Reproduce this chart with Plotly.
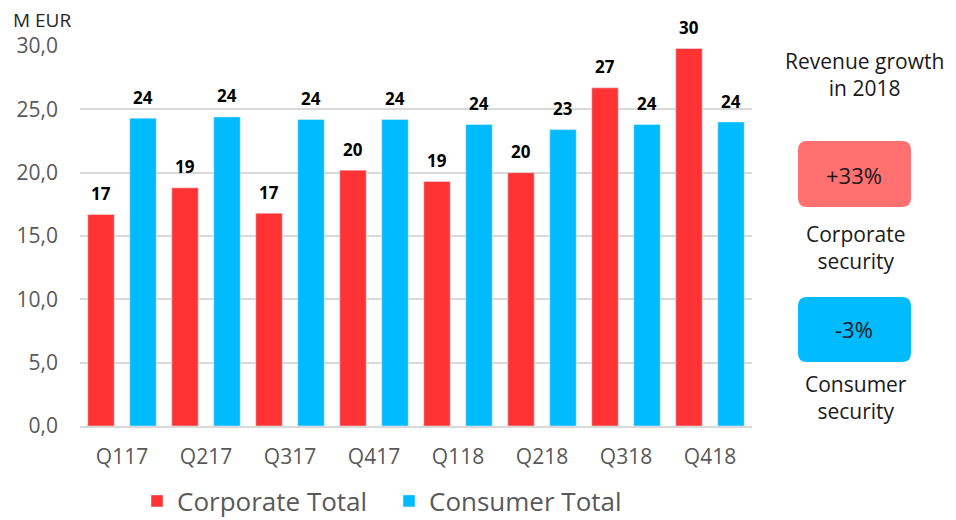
import plotly.graph_objects as go

categories = ["Q117", "Q217", "Q317", "Q417", "Q118", "Q218", "Q318", "Q418"]
corporate = [16.7, 18.8, 16.8, 20.2, 19.3, 20.0, 26.7, 29.8]
consumer = [24.3, 24.4, 24.2, 24.2, 23.8, 23.4, 23.8, 24.0]
series_names = ["Corporate Total", "Consumer Total"]
y_ticks = [0, 5, 10, 15, 20, 25, 30]

RED = "#FF3333"
BLUE = "#00BBFF"
FONT = "Open Sans"

OFF = 8  # page body margin
W, H = 956, 520
PW, PH = 672, 380
L, T = 80 - OFF, 46 - OFF
R, B = W - L - PW, H - T - PH


def px2paper(x, y):
    x, y = x - OFF, y - OFF
    return (x - L) / PW, (H - B - y) / PH


fig = go.Figure()
fig.add_trace(go.Bar(x=categories, y=corporate, name=series_names[0], marker_color=RED))
fig.add_trace(go.Bar(x=categories, y=consumer, name=series_names[1], marker_color=BLUE))

annotations = []
for vals, shift in ((corporate, -21), (consumer, 21)):
    for c, v in zip(categories, vals):
        annotations.append(dict(
            x=c, y=v, xref="x", yref="y", text="<b>%d</b>" % round(v),
            showarrow=False, xshift=shift, yshift=21, yanchor="middle",
            font=dict(family=FONT, size=17, color="#000000")))


def rounded_rect(x0, y0, x1, y1, r=9):
    rx, ry = r / PW, r / PH
    a0, b0 = px2paper(x0, y1)  # bottom-left
    a1, b1 = px2paper(x1, y0)  # top-right
    return (f"M {a0+rx},{b0} L {a1-rx},{b0} Q {a1},{b0} {a1},{b0+ry} "
            f"L {a1},{b1-ry} Q {a1},{b1} {a1-rx},{b1} L {a0+rx},{b1} "
            f"Q {a0},{b1} {a0},{b1-ry} L {a0},{b0+ry} Q {a0},{b0} {a0+rx},{b0} Z")


shapes = [
    dict(type="path", xref="paper", yref="paper", path=rounded_rect(798, 141, 911, 207),
         fillcolor="#FF7070", line=dict(width=0), layer="above"),
    dict(type="path", xref="paper", yref="paper", path=rounded_rect(798, 297, 911, 362),
         fillcolor=BLUE, line=dict(width=0), layer="above"),
]


def add_text(x, y, text, size=21, color="#1a1a1a", anchor="center"):
    px, py = px2paper(x, y)
    annotations.append(dict(x=px, y=py, xref="paper", yref="paper", text=text,
                            showarrow=False, xanchor=anchor, yanchor="middle",
                            font=dict(family=FONT, size=size, color=color)))


add_text(864, 74, "Revenue growth<br>in 2018")
add_text(854, 175, "+33%", size=22)
add_text(856, 247, "Corporate<br>security")
add_text(854, 329, "-3%", size=22)
add_text(856, 397, "Consumer<br>security")
add_text(11, 20.5, "M EUR", size=19, color="#262626", anchor="left")

lx, ly = px2paper(137, 501)
fig.update_layout(
    width=W, height=H,
    margin=dict(l=L, r=R, t=T, b=B, autoexpand=False),
    paper_bgcolor="white", plot_bgcolor="white",
    barmode="group", bargap=0.0, bargroupgap=0.37,
    separators=",.",
    font=dict(family=FONT, color="#595959"),
    showlegend=True,
    legend=dict(orientation="h", x=lx, y=ly, xanchor="left", yanchor="middle",
                font=dict(family=FONT, size=26, color="#595959"),
                itemwidth=30, traceorder="normal", entrywidth=207),
    annotations=annotations,
    shapes=shapes,
)
fig.update_yaxes(range=[0, 30], tickvals=y_ticks, tickformat=".1f",
                 showgrid=True, gridcolor="#D9D9D9", gridwidth=1.5,
                 zeroline=False, showline=False,
                 tickfont=dict(family=FONT, size=21, color="#595959"),
                 ticks="", ticklabelstandoff=21)
fig.update_xaxes(showline=True, linecolor="#D9D9D9", linewidth=2,
                 tickfont=dict(family=FONT, size=21, color="#595959"),
                 ticks="", ticklabelstandoff=11)

fig.write_html("out.html")
